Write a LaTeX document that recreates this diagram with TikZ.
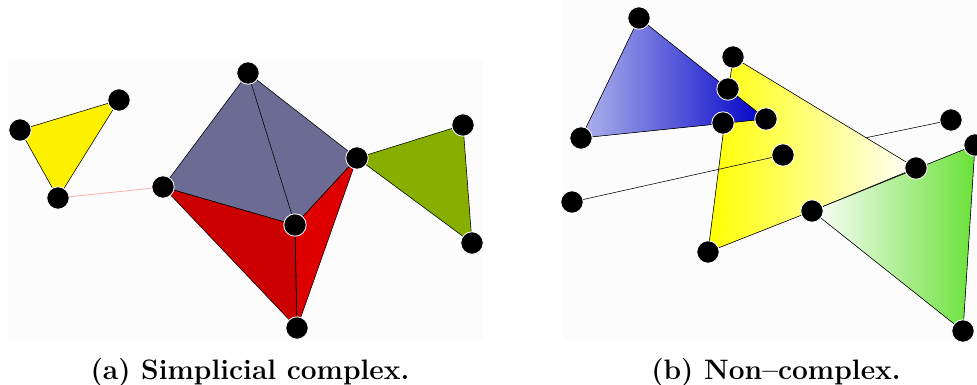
\documentclass[tikz,border=0pt]{standalone}
\usepackage{tikz}
\usetikzlibrary{calc}

\definecolor{slate}{RGB}{107,107,147}
\definecolor{darkred}{RGB}{204,0,0}
\definecolor{brightred}{RGB}{222,0,0}
\definecolor{olive}{RGB}{135,175,0}
\definecolor{paleblue}{RGB}{175,180,235}
\definecolor{deepblue}{RGB}{0,0,200}
\definecolor{leaf}{RGB}{105,225,55}
\definecolor{panel}{RGB}{252,252,252}

\tikzset{
  dot/.style={circle,fill=black,draw=white,line width=0.6pt,minimum size=0.56cm,inner sep=0pt},
  face/.style={draw=black,line width=0.4pt},
  edge/.style={draw=black,line width=0.4pt},
  caption/.style={font=\fontsize{20}{24}\selectfont\bfseries,inner sep=0pt}
}

\begin{document}
\begin{tikzpicture}[x=0.025cm,y=-0.025cm]
\useasboundingbox (0,0) rectangle (977,385);
\fill[panel] (8,60) rectangle (483,340);
\fill[panel] (563,0) rectangle (977,340);

% (a) simplicial complex
\coordinate (Ya) at (20,130);
\coordinate (Yb) at (119,100);
\coordinate (Yc) at (58,198);
\coordinate (T) at (248,73);
\coordinate (L) at (163,187);
\coordinate (R) at (357,158);
\coordinate (C) at (295,225);
\coordinate (B) at (297,328);
\coordinate (Gb) at (463,125);
\coordinate (Gc) at (472,243);

\filldraw[face,fill=yellow] (Ya) -- (Yb) -- (Yc) -- cycle;
\filldraw[face,fill=slate] (T) -- (R) -- (C) -- (L) -- cycle;
\filldraw[face,fill=darkred] (L) -- (C) -- (B) -- cycle;
\filldraw[face,fill=brightred] (C) -- (R) -- (B) -- cycle;
\filldraw[face,fill=olive] (R) -- (Gb) -- (Gc) -- cycle;
\draw[edge] (T) -- (C) -- (B);
\draw[red!35,line width=0.5pt] (Yc) -- (L);

\foreach \p in {Ya,Yb,Yc,T,L,R,C,B,Gb,Gc}
  \node[dot] (n\p) at (\p) {};

% (b) non-complex
\coordinate (Ba) at (639,18);
\coordinate (Bb) at (581,138);
\coordinate (Bc) at (766,119);
\coordinate (Xa) at (728,89);
\coordinate (Xb) at (723,123);
\coordinate (Qa) at (733,57);
\coordinate (Qb) at (916,168);
\coordinate (Qc) at (812,211);
\coordinate (Qd) at (708,252);
\coordinate (Fa) at (975,145);
\coordinate (Fb) at (963,331);
\coordinate (Sa) at (572,202);
\coordinate (Sb) at (783,155);
\coordinate (Ua) at (951,120);
\coordinate (Ue) at (860,139);

\draw[edge] (Ue) -- (Ua);
\filldraw[face,left color=yellow,middle color=yellow!80,right color=white]
  (Qa) -- (Qb) -- (Qc) -- (Qd) -- cycle;
\filldraw[face,left color=white,right color=leaf]
  (Qc) -- (Fa) -- (Fb) -- cycle;
\filldraw[face,left color=paleblue,middle color=deepblue,right color=deepblue]
  (Ba) -- (Bc) -- (Bb) -- cycle;
\draw[edge] (Sa) -- (Sb);

\foreach \p in {Ba,Bb,Bc,Xa,Xb,Qa,Qb,Qc,Qd,Fa,Fb,Sa,Sb,Ua}
  \node[dot] (n\p) at (\p) {};

\node[caption] (capa) at (250,372) {(a) Simplicial complex.};
\node[caption] (capb) at (776,372) {(b) Non--complex.};
\end{tikzpicture}
\end{document}
